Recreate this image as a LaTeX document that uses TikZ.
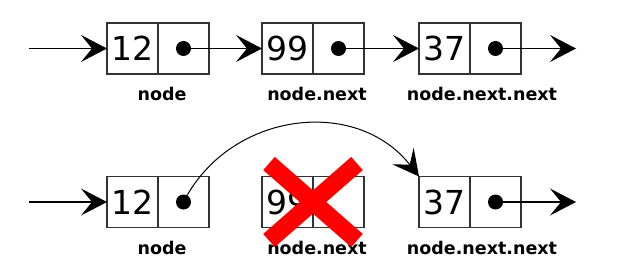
\documentclass[tikz,border=0pt]{standalone}
\usepackage{fontspec}
\setmainfont{DejaVu Sans}
\usetikzlibrary{positioning,arrows.meta,calc}

\tikzset{
  cell/.style={draw=black!80, line width=1.2pt, minimum width=51pt, minimum height=51pt,
    inner sep=0pt, outer sep=0pt, font=\fontsize{33}{39}\selectfont},
  dot/.style={circle, fill=black, inner sep=0pt, minimum size=15pt},
  ptr/.style={line width=1.2pt, -{Stealth[length=26pt,width=27pt,inset=11pt]}},
  lbl/.style={font=\bfseries\fontsize{17.5}{21}\selectfont, anchor=base},
  redx/.style={draw=red, line width=17.5pt},
}

\begin{document}
\begin{tikzpicture}[x=1pt,y=1pt]
\useasboundingbox (0,0) rectangle (617,273);

% top row: the list as it is
\node[cell] (t12) at (132.5,224.5) {12};
\node[cell, right=0pt of t12] (t12p) {};
\node[cell, right=53pt of t12p] (t99) {99};
\node[cell, right=0pt of t99] (t99p) {};
\node[cell, right=55pt of t99p] (t37) {37};
\node[cell, right=0pt of t37] (t37p) {};
\node[dot] (t12d) at (t12p) {};
\node[dot] (t99d) at (t99p) {};
\node[dot] (t37d) at (t37p) {};
\coordinate[left=78pt of t12.west] (tin);
\coordinate[right=55pt of t37p.east] (tout);
\draw[ptr] (tin) -- (t12.west);
\draw[ptr] (t12d.center) -- (t99.west);
\draw[ptr] (t99d.center) -- (t37.west);
\draw[ptr] (t37d.center) -- (tout);
\node[lbl] (tl1) at (162,172) {node};
\node[lbl] (tl2) at (317,172) {node.next};
\node[lbl] (tl3) at (482,172) {node.next.next};

% bottom row: 99 removed
\node[cell, below=102.5pt of t12] (b12) {12};
\node[cell, right=0pt of b12] (b12p) {};
\node[cell, right=53pt of b12p] (b99) {99};
\node[cell, right=0pt of b99] (b99p) {};
\node[cell, right=55pt of b99p] (b37) {37};
\node[cell, right=0pt of b37] (b37p) {};
\node[dot] (b12d) at (b12p) {};
\node[dot] (b37d) at (b37p) {};
\coordinate[left=78pt of b12.west] (bin);
\coordinate[right=55pt of b37p.east] (bout);
\draw[ptr] (bin) -- (b12.west);
\draw[ptr, line width=1pt] (b12d.center) to[out=63,in=128,looseness=1.1] (b37.north west);
\draw[ptr] (b37d.center) -- (bout);
\node[lbl] (bl1) at (162,19) {node};
\node[lbl] (bl2) at (317,19) {node.next};
\node[lbl] (bl3) at (482,19) {node.next.next};
\draw[redx] ($(b99.east)+(-44,38.5)$) -- ($(b99.east)+(44,-38.5)$);
\draw[redx] ($(b99.east)+(-44,-38.5)$) -- ($(b99.east)+(44,38.5)$);
\end{tikzpicture}
\end{document}
